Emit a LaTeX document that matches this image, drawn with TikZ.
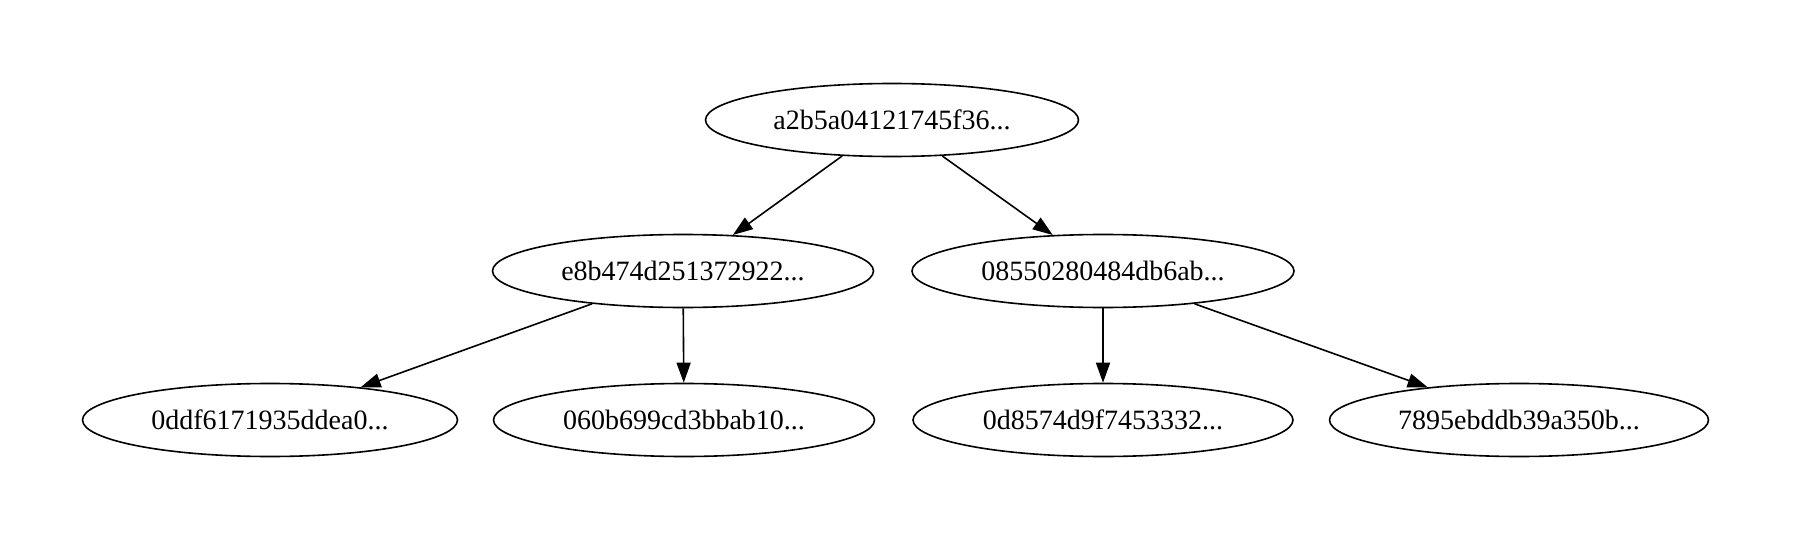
\documentclass[tikz,border=0pt]{standalone}
\usepackage{fontspec}
\setmainfont{Liberation Serif}
\usetikzlibrary{shapes.geometric, arrows.meta}

\begin{document}
\begin{tikzpicture}[x=1pt, y=1pt,
  hashnode/.style={draw, ellipse, line width=0.8pt, inner sep=0pt,
    minimum height=36.5pt, font=\fontsize{14}{16}\selectfont},
  hashedge/.style={line width=0.8pt, -{Triangle[length=10pt,width=7pt]}}]
\useasboundingbox (0,0) rectangle (897,271);
% root
\node[hashnode, minimum width=186.5pt] (root) at (446,211) {a2b5a04121745f36...};
% second level
\node[hashnode, minimum width=190.5pt] (left) at (341.5,135.5) {e8b474d251372922...};
\node[hashnode, minimum width=191pt] (right) at (551.5,135.5) {08550280484db6ab...};
% leaves
\node[hashnode, minimum width=187.5pt] (leafa) at (135,61) {0ddf6171935ddea0...};
\node[hashnode, minimum width=190.5pt] (leafb) at (342,61) {060b699cd3bbab10...};
\node[hashnode, minimum width=190pt] (leafc) at (551.5,61) {0d8574d9f7453332...};
\node[hashnode, minimum width=189.5pt] (leafd) at (759.5,61) {7895ebddb39a350b...};
\draw[hashedge] (root) -- (left);
\draw[hashedge] (root) -- (right);
\draw[hashedge] (left) -- (leafa);
\draw[hashedge] (left) -- (leafb);
\draw[hashedge] (right) -- (leafc);
\draw[hashedge] (right) -- (leafd);
\end{tikzpicture}
\end{document}
